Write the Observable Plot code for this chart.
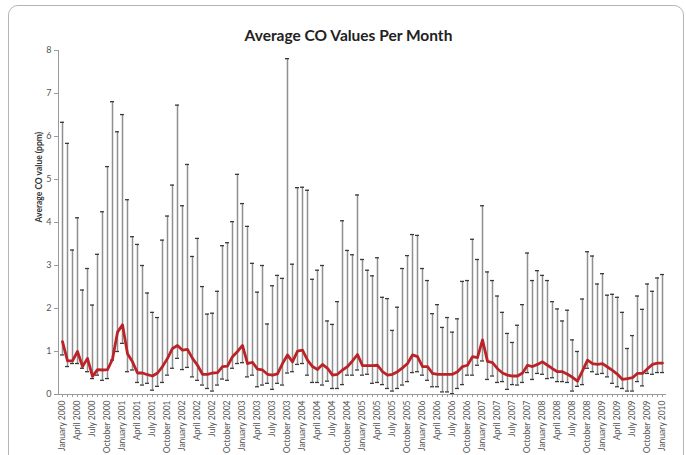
<!DOCTYPE html>
<html>
<head>
<meta charset="utf-8">
<script src="https://cdn.jsdelivr.net/npm/d3@7"></script>
<script src="https://cdn.jsdelivr.net/npm/@observablehq/plot@0.6"></script>
<style>
  html, body { margin: 0; padding: 0; background: #fff; overflow: hidden; }
  #wrap { position: relative; width: 686px; height: 455px; }
  #border { position: absolute; left: 8px; top: 5px; width: 676px; height: 480px;
            border: 1px solid #b5b5b5; border-radius: 10px; box-sizing: border-box; }
  #chart { position: absolute; left: 0; top: 0; }
</style>
</head>
<body>
<div id="wrap"><div id="border"></div><div id="chart"></div></div>
<script>
const title = "Average CO Values Per Month";
const yLabel = "Average CO value (ppm)";
const monthNames = ["January","February","March","April","May","June","July","August","September","October","November","December"];
const firstYear = 2000;
const yTicks = [0, 1, 2, 3, 4, 5, 6, 7, 8];

// Monthly mean CO (ppm), January 2000 – January 2010
const meanCO = [
  1.23,0.78,0.78,1.00,0.65,0.84,0.42,0.58,0.57,0.58,0.82,1.45,
  1.62,0.95,0.76,0.50,0.50,0.46,0.43,0.50,0.65,0.84,1.07,1.14,
  1.03,1.05,0.84,0.68,0.47,0.47,0.50,0.51,0.65,0.66,0.88,1.00,
  1.14,0.72,0.75,0.59,0.57,0.47,0.45,0.48,0.72,0.92,0.76,1.01,
  1.03,0.80,0.65,0.58,0.70,0.61,0.45,0.47,0.57,0.65,0.78,0.93,
  0.67,0.67,0.67,0.68,0.53,0.45,0.47,0.53,0.62,0.72,0.92,0.88,
  0.65,0.65,0.49,0.47,0.47,0.47,0.47,0.53,0.65,0.68,0.88,0.86,
  1.27,0.77,0.74,0.60,0.50,0.45,0.43,0.43,0.50,0.68,0.65,0.70,
  0.76,0.68,0.60,0.53,0.53,0.47,0.40,0.31,0.55,0.80,0.72,0.70,
  0.72,0.64,0.56,0.47,0.35,0.37,0.39,0.49,0.49,0.60,0.70,0.73,
  0.73
];
// Upper end of the error bar (ppm)
const upperCO = [
  6.33,5.84,3.36,4.11,2.43,2.93,2.08,3.26,4.25,5.30,6.81,6.11,
  6.51,4.53,3.67,3.49,3.00,2.36,1.91,1.79,3.59,4.15,4.87,6.73,
  4.39,5.35,3.21,3.63,2.51,1.87,1.89,2.40,3.46,3.53,4.02,5.12,
  4.44,3.91,3.05,2.38,3.00,1.64,2.53,2.77,2.70,7.81,3.03,4.81,
  4.82,4.75,2.68,2.89,3.00,1.71,1.63,2.16,4.04,3.35,3.25,4.64,
  3.14,2.89,2.76,3.18,2.26,2.23,1.49,2.03,2.93,3.23,3.72,3.70,
  2.93,2.65,1.88,2.09,1.56,1.79,1.45,1.76,2.63,2.65,3.61,3.14,
  4.39,2.85,2.65,2.29,1.91,1.42,1.21,1.61,2.09,3.29,2.65,2.88,
  2.77,2.65,2.16,1.99,1.71,1.96,1.27,1.00,2.22,3.32,3.22,2.57,
  2.81,2.31,2.33,2.26,1.91,1.07,1.37,2.29,1.98,2.57,2.40,2.71,
  2.79
];
// Lower end of the error bar (ppm)
const lowerCO = [
  0.92,0.65,0.72,0.72,0.61,0.53,0.37,0.45,0.33,0.37,0.80,1.00,
  1.19,0.53,0.57,0.28,0.22,0.26,0.10,0.19,0.28,0.45,0.61,0.84,
  0.58,0.63,0.41,0.33,0.22,0.14,0.08,0.22,0.36,0.33,0.61,0.72,
  0.74,0.41,0.45,0.18,0.22,0.26,0.12,0.26,0.22,0.50,0.53,0.70,
  0.72,0.45,0.28,0.28,0.22,0.31,0.14,0.14,0.23,0.45,0.45,0.57,
  0.45,0.47,0.26,0.28,0.23,0.14,0.08,0.14,0.22,0.30,0.51,0.53,
  0.45,0.33,0.18,0.18,0.06,0.06,0.02,0.14,0.23,0.45,0.45,0.68,
  0.78,0.35,0.43,0.28,0.30,0.12,0.23,0.22,0.28,0.51,0.35,0.49,
  0.47,0.37,0.39,0.30,0.30,0.28,0.08,0.19,0.23,0.61,0.53,0.47,
  0.49,0.41,0.26,0.18,0.14,0.08,0.08,0.30,0.20,0.49,0.47,0.51,
  0.51
];

const monthLabels = meanCO.map((_, i) => monthNames[i % 12] + " " + (firstYear + Math.floor(i / 12)));
const labeledMonths = monthLabels.filter((_, i) => i % 3 === 0);
const data = monthLabels.map((m, i) => ({month: m, mean: meanCO[i], upper: upperCO[i], lower: lowerCO[i]}));

const font = "Lato, 'Open Sans', sans-serif";

const chart = Plot.plot({
  width: 686,
  height: 455,
  marginLeft: 58,
  marginRight: 20,
  marginTop: 50,
  marginBottom: 61,
  style: {fontFamily: font, background: "transparent", overflow: "visible"},
  x: {type: "band", domain: monthLabels, padding: 0.2},
  y: {domain: [0, 8]},
  marks: [
    Plot.ruleX(data, {x: "month", y1: "lower", y2: "upper", stroke: "#8f8f8f", strokeWidth: 1.5}),
    Plot.tickY(data, {x: "month", y: "upper", stroke: "#3a3a3a", strokeWidth: 1.3}),
    Plot.tickY(data, {x: "month", y: "lower", stroke: "#3a3a3a", strokeWidth: 1.3}),
    Plot.line(data, {x: "month", y: "mean", stroke: "#bb2328", strokeWidth: 2.8, curve: "linear"}),
    Plot.ruleY([0], {stroke: "#9a9a9a"}),
    Plot.frame({anchor: "left", stroke: "#9a9a9a"}),
    Plot.axisY({ticks: yTicks, tickSize: 4, tickPadding: 3, fontSize: 9, fill: "#555", stroke: "#9a9a9a", label: null}),
    Plot.axisX({ticks: monthLabels, tickSize: 3, tickFormat: () => "", stroke: "#9a9a9a", label: null}),
    Plot.axisX({ticks: labeledMonths, tickSize: 0, tickPadding: 6, tickRotate: -90, fontSize: 8.5, fill: "#555", label: null}),
    Plot.text([yLabel], {frameAnchor: "left", rotate: -90, dx: -19, fontSize: 8.5, fontWeight: "bold", fill: "#333"}),
    Plot.text([title], {frameAnchor: "top", dx: -14, dy: -21, fontSize: 15.5, fontWeight: "bold", fill: "#222"})
  ]
});
document.getElementById("chart").appendChild(chart);
</script>
</body>
</html>
